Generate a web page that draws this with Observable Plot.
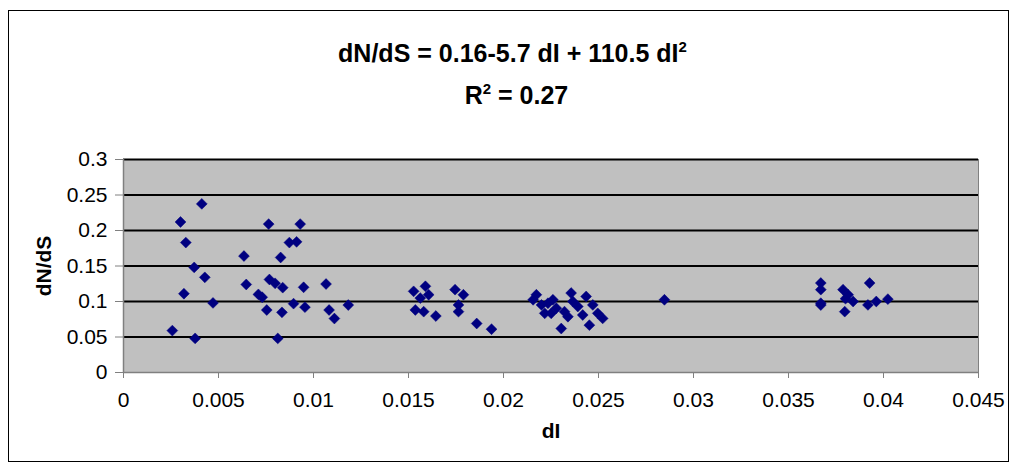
<!DOCTYPE html>
<html>
<head>
<meta charset="utf-8">
<script src="https://cdn.jsdelivr.net/npm/d3@7"></script>
<script src="https://cdn.jsdelivr.net/npm/@observablehq/plot@0.6"></script>
<style>
  html, body { margin: 0; padding: 0; background: white; }
  body { width: 1017px; height: 468px; position: relative; overflow: hidden;
         font-family: "Liberation Sans", Arial, sans-serif; }
  #border { position: absolute; left: 8px; top: 10px; width: 1001px; height: 452px;
            border: 1px solid black; box-sizing: border-box; pointer-events: none; }
  #titles { position: relative; height: 140px; width: 1017px; }
  .t { position: absolute; left: 0; width: 1017px; text-align: center; font-weight: bold;
       font-size: 25px; line-height: 28px; color: black; }
  .t sup { font-size: 15px; vertical-align: 0; position: relative; top: -10px; }
  #chart svg { display: block; }
</style>
</head>
<body>
<div id="titles">
  <div class="t" style="left:4px; top:39px;">dN/dS = 0.16-5.7 dI + 110.5 dI<sup>2</sup></div>
  <div class="t" style="left:8px; top:81px;">R<sup>2</sup> = 0.27</div>
</div>
<div id="chart"></div>
<div id="border"></div>
<script>
const dI = [
  0.00257, 0.0030, 0.00328, 0.00318, 0.00372, 0.00377, 0.00412, 0.00428, 0.00471,
  0.00634, 0.00646, 0.0071, 0.0073, 0.00764, 0.00754, 0.00768, 0.00798, 0.00812,
  0.00827, 0.00834, 0.00838, 0.00873, 0.00895, 0.00911, 0.0093, 0.00948, 0.00955,
  0.01066, 0.01082, 0.0111, 0.01183,
  0.01527, 0.01589, 0.01606, 0.01562, 0.01536, 0.0158, 0.01644,
  0.01745, 0.01789, 0.01763, 0.01763, 0.01859, 0.01937,
  0.02173, 0.02156, 0.022, 0.02234, 0.02217, 0.02251, 0.02278, 0.02304, 0.02321,
  0.02356, 0.02365, 0.02339, 0.02391, 0.02435, 0.02417, 0.02452, 0.0247, 0.02496,
  0.02522, 0.0226,
  0.02847,
  0.0367, 0.0367, 0.0367, 0.0367, 0.03787, 0.03814, 0.0384, 0.03796, 0.03800,
  0.03927, 0.03918, 0.03962, 0.04023
];
const dNdS = [
  0.059, 0.212, 0.183, 0.111, 0.148, 0.048, 0.2375, 0.134, 0.098,
  0.164, 0.124, 0.110, 0.106, 0.209, 0.088, 0.131, 0.1256, 0.048,
  0.162, 0.0847, 0.1195, 0.183, 0.097, 0.184, 0.209, 0.120, 0.092,
  0.1246, 0.088, 0.076, 0.095,
  0.1143, 0.1214, 0.1095, 0.1048, 0.0881, 0.0857, 0.0795,
  0.1167, 0.1095, 0.0952, 0.0857, 0.069, 0.061,
  0.1095, 0.1024, 0.0952, 0.0976, 0.0833, 0.0833, 0.0905, 0.0619, 0.0857,
  0.1119, 0.100, 0.0786, 0.0929, 0.1071, 0.081, 0.0667, 0.0952, 0.0833,
  0.0762, 0.1024,
  0.1024,
  0.126, 0.1167, 0.0976, 0.095, 0.1167, 0.1095, 0.100, 0.0857, 0.104,
  0.126, 0.0952, 0.100, 0.1033
];
const xTicks = [0, 0.005, 0.01, 0.015, 0.02, 0.025, 0.03, 0.035, 0.04, 0.045];
const xTickLabels = ["0", "0.005", "0.01", "0.015", "0.02", "0.025", "0.03", "0.035", "0.04", "0.045"];
const yTicks = [0, 0.05, 0.1, 0.15, 0.2, 0.25, 0.3];
const yTickLabels = ["0", "0.05", "0.1", "0.15", "0.2", "0.25", "0.3"];

const points = dI.map((x, i) => ({x, y: dNdS[i]}));

const chart = Plot.plot({
  width: 1017,
  height: 328,
  marginTop: 19,
  marginBottom: 96,
  marginLeft: 123,
  marginRight: 39,
  x: {domain: [0, 0.045], label: null},
  y: {domain: [0, 0.3], label: null},
  style: {fontFamily: '"Liberation Sans", Arial, sans-serif', fontSize: "21px", color: "black", background: "white", overflow: "visible"},
  marks: [
    Plot.frame({fill: "#c0c0c0", stroke: "#808080"}),
    Plot.ruleY(yTicks.slice(1), {stroke: "black", strokeWidth: 2}),
    Plot.ruleX([0], {stroke: "#808080", strokeWidth: 1.5}),
    Plot.ruleY([0], {stroke: "#808080", strokeWidth: 1.5}),
    Plot.axisX({ticks: xTicks, tickFormat: (d, i) => xTickLabels[i], tickSize: 6, tickPadding: 14, fontSize: 21, stroke: "#808080", color: "black"}),
    Plot.axisY({ticks: yTicks, tickFormat: (d, i) => yTickLabels[i], tickSize: 8, tickPadding: 8, fontSize: 21, stroke: "#808080", color: "black"}),
    Plot.dot(points, {x: "x", y: "y", symbol: "diamond2", r: 4.9, fill: "#000080", stroke: "#000080", strokeWidth: 0.5}),
    Plot.text(["dN/dS"], {frameAnchor: "left", textAnchor: "middle", dx: -79, rotate: -90, fontWeight: "bold", fontSize: 21}),
    Plot.text(["dI"], {frameAnchor: "bottom", textAnchor: "middle", dy: 65, fontWeight: "bold", fontSize: 21})
  ]
});
document.getElementById("chart").append(chart);
</script>
</body>
</html>
